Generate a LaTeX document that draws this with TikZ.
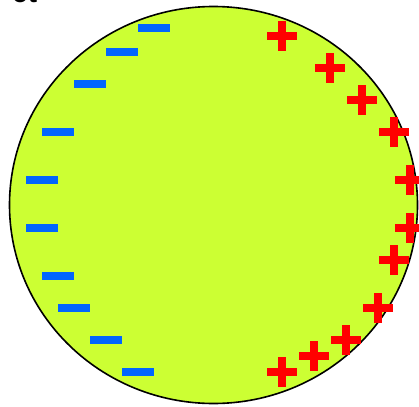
\documentclass[tikz,border=0pt]{standalone}
\usepackage{fontspec}
\setmainfont{Liberation Sans}
\definecolor{ballfill}{HTML}{CCFF33}
\definecolor{negblue}{HTML}{0066FF}
\definecolor{posred}{HTML}{FF0000}
\tikzset{
  pics/negcharge/.style={code={\fill[negblue] (-16,-4) rectangle (16,4);}},
  pics/poscharge/.style={code={\fill[posred] (-15,-4) rectangle (15,4); \fill[posred] (-4,-15) rectangle (4,15);}},
  ball/.style={draw=black, fill=ballfill, line width=1.6pt}
}
\begin{document}
\begin{tikzpicture}[x=1pt,y=-1pt]
\useasboundingbox (0,0) rectangle (419,406);
\clip (0,0) rectangle (419,406);
\node[anchor=base west, font=\bfseries\fontsize{28}{30}\selectfont, inner sep=0pt] (frag) at (12,3) {ct};
\draw[ball] (213.5,205) ellipse [x radius=204, y radius=198.5];
\foreach \x/\y in {154/28,122/52,90/84,58/132,42/180,42/228,58/276,74/308,106/340,138/372}
  \pic at (\x,\y) {negcharge};
\foreach \x/\y in {282/36,330/68,362/100,394/132,410/180,410/228,394/260,378/308,346/340,314/356,282/372}
  \pic at (\x,\y) {poscharge};
\end{tikzpicture}
\end{document}
